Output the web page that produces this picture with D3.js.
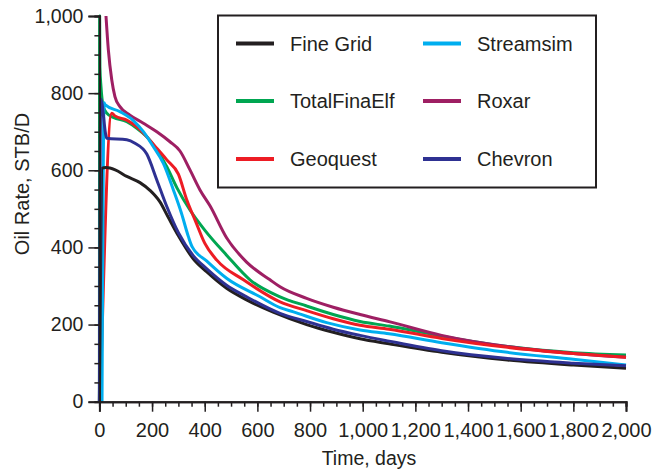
<!DOCTYPE html>
<html>
<head>
<meta charset="utf-8">
<script src="https://cdn.jsdelivr.net/npm/d3@7/dist/d3.min.js"></script>
<style>
  html, body { margin: 0; padding: 0; background: #fff; }
  svg { display: block; font-family: "Liberation Sans", Arial, Helvetica, sans-serif; }
</style>
</head>
<body>
<svg id="chart" width="663" height="469"></svg>
<script>
// Oil rate (STB/D) versus time (days) for each simulation model: [day, rate]
const fineGrid = [[0,0],[8,605],[25,607],[60,601],[104,584],[154,568],[192,548],[230,518],[260,480],[300,430],[357,370],[407,337],[483,294],[559,264],[660,232],[787,200],[888,180],[990,163],[1100,150],[1300,128],[1550,108],[1800,95],[2000,87]];
const totalFinaElf = [[0,0],[1,1000],[2,868],[6,817],[15,765],[28,748],[53,737],[104,726],[142,709],[180,687],[218,653],[256,609],[294,555],[344,497],[400,445],[483,380],[572,316],[686,272],[787,248],[888,226],[990,208],[1100,196],[1300,170],[1550,143],[1800,127],[2000,121]];
const geoquest = [[3,0],[47,748],[59,741],[104,730],[148,709],[180,687],[218,657],[256,627],[300,590],[332,523],[365,468],[400,411],[446,367],[547,316],[686,259],[787,236],[888,215],[990,198],[1100,188],[1300,164],[1550,141],[1800,125],[2000,115]];
const streamsim = [[10,0],[18,775],[21,770],[78,752],[129,729],[167,700],[205,661],[243,618],[281,549],[312,488],[338,428],[352,402],[407,365],[483,320],[610,272],[686,244],[737,233],[863,205],[990,186],[1100,176],[1300,153],[1550,128],[1800,110],[2000,95]];
const roxar = [[25,1000],[34,912],[47,834],[59,791],[78,765],[116,743],[167,722],[218,700],[268,674],[306,650],[344,601],[382,549],[420,508],[483,425],[559,362],[648,316],[686,298],[787,268],[888,245],[990,226],[1104,207],[1300,172],[1550,143],[1800,125],[2000,115]];
const chevron = [[0,0],[5,785],[28,683],[104,679],[135,670],[180,642],[218,575],[256,506],[300,438],[357,378],[407,345],[483,302],[559,272],[686,229],[787,208],[888,188],[990,172],[1100,157],[1300,132],[1550,112],[1800,100],[2000,93]];

const seriesNames = ["Fine Grid", "TotalFinaElf", "Geoquest", "Streamsim", "Roxar", "Chevron"];
const seriesData = [fineGrid, totalFinaElf, geoquest, streamsim, roxar, chevron];
const seriesColors = ["#231f20", "#00a651", "#ed1c24", "#00aeef", "#9e1f63", "#2e3192"];

const xMajorTicks = [0, 200, 400, 600, 800, 1000, 1200, 1400, 1600, 1800, 2000];
const yMajorTicks = [0, 200, 400, 600, 800, 1000];
const xTitle = "Time, days";
const yTitle = "Oil Rate, STB/D";

const ink = "#231f20";
const svg = d3.select("#chart");

const x = d3.scaleLinear().domain([0, 2000]).range([99.4, 626]);
const y = d3.scaleLinear().domain([0, 1000]).range([401.7, 16]);

// Curves (drawn back to front so the fine-grid reference sits near the top)
const line = d3.line()
  .x(d => x(d[0]))
  .y(d => y(d[1]))
  .curve(d3.curveMonotoneX);
const drawOrder = [1, 4, 2, 3, 0, 5];
svg.append("g")
  .selectAll("path")
  .data(drawOrder)
  .join("path")
  .attr("d", i => line(seriesData[i]))
  .attr("fill", "none")
  .attr("stroke", i => seriesColors[i])
  .attr("stroke-width", 3)
  .attr("stroke-linejoin", "round");

// Axes: major ticks with labels, minor ticks every 50
const fmt = d3.format(",");
const xMinor = d3.range(0, 2001, 50);
const yMinor = d3.range(0, 1001, 50);

const gx = svg.append("g").attr("transform", `translate(0,${y(0)})`);
gx.call(d3.axisBottom(x).tickValues(xMinor).tickSize(5).tickFormat(""));
gx.call(g => g.append("g").call(d3.axisBottom(x).tickValues(xMajorTicks).tickSize(10).tickPadding(11).tickFormat(fmt)));
gx.selectAll(".tick text").style("font-size", "20px");

const gy = svg.append("g").attr("transform", `translate(${x(0)},0)`);
gy.call(d3.axisLeft(y).tickValues(yMinor).tickSize(5).tickFormat(""));
gy.call(g => g.append("g").call(d3.axisLeft(y).tickValues(yMajorTicks).tickSize(11).tickPadding(5).tickFormat(fmt)));
gy.selectAll(".tick text").style("font-size", "19.5px");

svg.selectAll(".domain").attr("stroke", ink).attr("stroke-width", 2);
svg.selectAll(".tick line").attr("stroke", ink).attr("stroke-width", 1.5);
svg.selectAll(".tick text")
  .attr("fill", ink)
  .style("font-family", "'Liberation Sans', Arial, sans-serif");

// Axis titles
svg.append("text")
  .attr("x", 369).attr("y", 465)
  .attr("text-anchor", "middle")
  .attr("fill", ink)
  .style("font-size", "19.5px")
  .text(xTitle);

svg.append("text")
  .attr("transform", "translate(29,184) rotate(-90)")
  .attr("text-anchor", "middle")
  .attr("fill", ink)
  .style("font-size", "20px")
  .text(yTitle);

// Legend
const legend = svg.append("g");
legend.append("rect")
  .attr("x", 218).attr("y", 15.5)
  .attr("width", 378).attr("height", 172)
  .attr("fill", "#fff")
  .attr("stroke", ink)
  .attr("stroke-width", 2);

const colX = [236, 423];
const rowY = [43.5, 101, 159];
const items = legend.selectAll("g.item")
  .data(seriesNames.map((n, i) => ({ name: n, color: seriesColors[i], col: Math.floor(i / 3), row: i % 3 })))
  .join("g")
  .attr("class", "item")
  .attr("transform", d => `translate(${colX[d.col]},${rowY[d.row]})`);

items.append("line")
  .attr("x1", 0).attr("x2", 38)
  .attr("stroke", d => d.color)
  .attr("stroke-width", 4);

items.append("text")
  .attr("x", 54).attr("dy", "0.36em")
  .attr("fill", ink)
  .style("font-size", "20px")
  .text(d => d.name);
</script>
</body>
</html>
